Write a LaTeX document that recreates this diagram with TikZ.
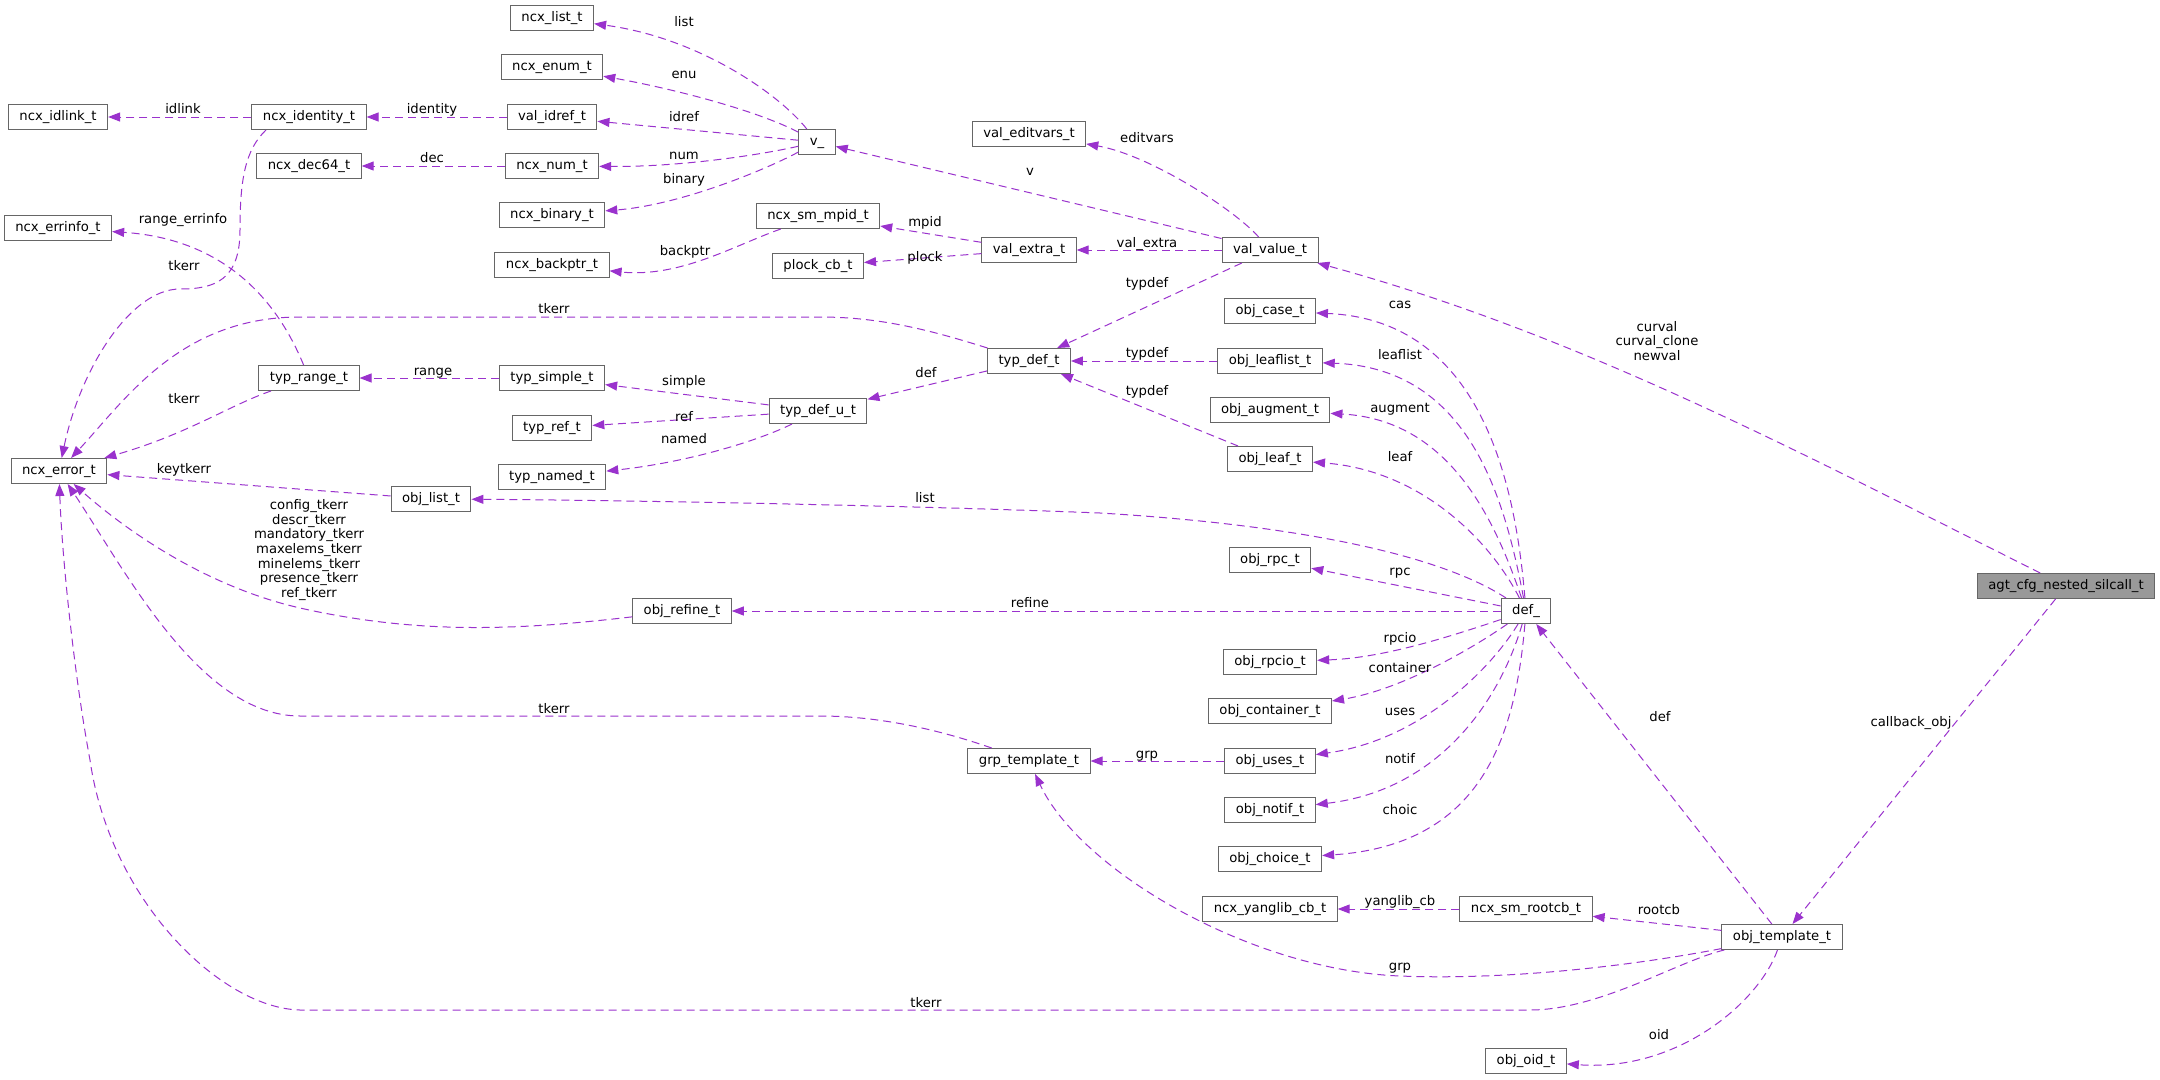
\documentclass[tikz,border=0pt]{standalone}
\usepackage{fontspec}
\setmainfont{DejaVu Sans}
\usepackage{xcolor}
\usetikzlibrary{arrows.meta}
\definecolor{memberline}{HTML}{9A32CD}
\definecolor{boxline}{HTML}{666666}
\definecolor{rootfill}{HTML}{999999}
\newcommand{\graphfont}{\fontsize{13.2}{14.6}\selectfont}

\begin{document}
\begin{tikzpicture}[x=1pt, y=-1pt,
    cls/.style={draw=boxline, fill=white, line width=1pt, minimum height=25pt, inner xsep=11pt, inner ysep=0pt, text height=9.6pt, text depth=3pt, font=\graphfont},
    rootcls/.style={cls, fill=rootfill},
    member/.style={memberline, line width=1pt, dash pattern=on 8pt off 5pt, -{Triangle[length=12pt, width=9pt]}},
    lbl/.style={text=black, font=\graphfont, inner sep=0pt, text height=9.6pt, text depth=3pt},
    mlbl/.style={text=black, font=\graphfont, inner sep=0pt, align=center}
]
    \path[fill=white] (0,0) rectangle (2160,1079);
    \useasboundingbox (0,0) rectangle (2160,1079);

    % left side
    \node[cls] (idlink)   at (58,117)  {ncx\_idlink\_t};
    \node[cls] (errinfo)  at (58,228)  {ncx\_errinfo\_t};
    \node[cls] (error)    at (59,471)  {ncx\_error\_t};
    \node[cls] (identity) at (309,117) {ncx\_identity\_t};
    \node[cls] (dec64)    at (309,166) {ncx\_dec64\_t};
    \node[cls] (range)    at (309,378) {typ\_range\_t};
    \node[cls] (objlist)  at (431,499) {obj\_list\_t};
    \foreach \nm/\txt/\y in {listt/ncx\_list\_t/18, enumt/ncx\_enum\_t/67, idref/val\_idref\_t/117,
        num/ncx\_num\_t/166, binary/ncx\_binary\_t/215, backptr/ncx\_backptr\_t/265,
        simple/typ\_simple\_t/378, tref/typ\_ref\_t/428, named/typ\_named\_t/477} {
        \node[cls] (\nm) at (552,\y) {\txt};
    }
    \node[cls] (refine)   at (682,611) {obj\_refine\_t};
    \node[cls] (v)        at (817,142) {v\_};
    \node[cls] (mpid)     at (818,216) {ncx\_sm\_mpid\_t};
    \node[cls] (plock)    at (818,266) {plock\_cb\_t};
    \node[cls] (defu)     at (818,411) {typ\_def\_u\_t};
    \node[cls] (editvars) at (1029,134) {val\_editvars\_t};
    \node[cls] (extra)    at (1029,250) {val\_extra\_t};
    \node[cls] (typdef)   at (1029,361) {typ\_def\_t};
    \node[cls] (grp)      at (1029,761) {grp\_template\_t};
    \node[cls] (value)    at (1270,250) {val\_value\_t};
    % right side
    \foreach \nm/\txt/\y in {case/obj\_case\_t/311, leaflist/obj\_leaflist\_t/361, augment/obj\_augment\_t/410,
        leaf/obj\_leaf\_t/459, rpc/obj\_rpc\_t/560, rpcio/obj\_rpcio\_t/662, container/obj\_container\_t/711,
        uses/obj\_uses\_t/761, notif/obj\_notif\_t/810, choice/obj\_choice\_t/859, yanglib/ncx\_yanglib\_cb\_t/909} {
        \node[cls] (\nm) at (1270,\y) {\txt};
    }
    \node[cls] (def)      at (1526,611) {def\_};
    \node[cls] (rootcb)   at (1526,909) {ncx\_sm\_rootcb\_t};
    \node[cls] (oid)      at (1526,1061) {obj\_oid\_t};
    \node[cls] (template) at (1782,937) {obj\_template\_t};
    \node[rootcls] (agt)  at (2066,586) {agt\_cfg\_nested\_silcall\_t};

    % Edges from v_
    \draw[member] (v) .. controls (780,95) and (700,38) .. (listt) node[lbl] at (684,23) {list};
    \draw[member] (v) .. controls (760,112) and (680,90) .. (enumt) node[lbl] at (684,75) {enu};
    \draw[member] (v) -- (idref) node[lbl] at (684,118) {idref};
    \draw[member] (v) .. controls (760,155) and (680,167) .. (num) node[lbl] at (684,156) {num};
    \draw[member] (v) .. controls (765,170) and (680,205) .. (binary) node[lbl] at (684,180) {binary};
    % Edges from ncx_identity_t, val_idref_t, ncx_num_t
    \draw[member] (identity) -- (idlink) node[lbl] at (183,110) {idlink};
    \draw[member] ([xshift=-43pt]identity.south) .. controls (245,150) and (240,180) .. (240,230)
        .. controls (240,280) and (215,289) .. (180,289) .. controls (130,289) and (80,370) .. (error)
        node[lbl] at (184,267) {tkerr};
    \draw[member] (idref) -- (identity) node[lbl] at (432,110) {identity};
    \draw[member] (num) -- (dec64) node[lbl] at (432,159) {dec};
    % Edges from typ_range_t, typ_simple_t
    \draw[member] (range) .. controls (285,320) and (240,240) .. (errinfo) node[lbl] at (183,220) {range\_errinfo};
    \draw[member] (range) .. controls (230,405) and (188,434) .. (error) node[lbl] at (184,400) {tkerr};
    \draw[member] (simple) -- (range) node[lbl] at (433,372) {range};
    % Edges from typ_def_u_t, typ_def_t
    \draw[member] (defu) -- (simple) node[lbl] at (684,382) {simple};
    \draw[member] (defu) -- (tref) node[lbl] at (684,418) {ref};
    \draw[member] (defu) .. controls (760,440) and (690,462) .. (named) node[lbl] at (684,440) {named};
    \draw[member] (typdef) -- (defu) node[lbl] at (926,374) {def};
    \draw[member] (typdef) .. controls (930,330) and (880,317) .. (820,317) -- (300,317)
        .. controls (180,317) and (125,400) .. (error) node[lbl] at (554,310) {tkerr};
    % Edges from val_extra_t, ncx_sm_mpid_t
    \draw[member] (extra) -- (mpid) node[lbl] at (925,223) {mpid};
    \draw[member] (extra) -- (plock) node[lbl] at (925,258) {plock};
    \draw[member] (mpid) .. controls (735,245) and (680,278) .. (backptr) node[lbl] at (685,252) {backptr};
    % Edges from val_value_t
    \draw[member] (value) -- (v) node[lbl] at (1030,172) {v};
    \draw[member] (value) .. controls (1235,210) and (1150,155) .. (editvars) node[lbl] at (1147,139) {editvars};
    \draw[member] (value) -- (extra) node[lbl] at (1147,244) {val\_extra};
    \draw[member] (value) -- (typdef) node[lbl] at (1147,284) {typdef};
    \draw[member] (leaflist) -- (typdef) node[lbl] at (1147,354) {typdef};
    \draw[member] (leaf) -- (typdef) node[lbl] at (1147,392) {typdef};
    % Edges into ncx_error_t from below
    \draw[member] (objlist) -- (error) node[lbl] at (184,470) {keytkerr};
    \draw[member] (refine) .. controls (520,630) and (420,635) .. (300,608) .. controls (200,585) and (120,525) .. (error)
        node[mlbl] at (309,550) {config\_tkerr\\descr\_tkerr\\mandatory\_tkerr\\maxelems\_tkerr\\minelems\_tkerr\\presence\_tkerr\\ref\_tkerr};
    \draw[member] (grp) .. controls (940,730) and (880,716) .. (820,716) -- (300,716)
        .. controls (200,716) and (125,570) .. (error) node[lbl] at (554,710) {tkerr};
    \draw[member] (uses) -- (grp) node[lbl] at (1147,755) {grp};
    % Edges from def_
    \draw[member] (def) .. controls (1515,480) and (1480,320) .. (case) node[lbl] at (1400,305) {cas};
    \draw[member] (def) .. controls (1505,500) and (1470,368) .. (leaflist) node[lbl] at (1400,356) {leaflist};
    \draw[member] (def) .. controls (1495,520) and (1450,420) .. (augment) node[lbl] at (1400,409) {augment};
    \draw[member] (def) .. controls (1490,540) and (1420,470) .. (leaf) node[lbl] at (1400,458) {leaf};
    \draw[member] (def) .. controls (1440,555) and (1300,525) .. (1100,513) .. controls (900,505) and (600,500) .. (objlist)
        node[lbl] at (925,499) {list};
    \draw[member] (def) -- (rpc) node[lbl] at (1400,572) {rpc};
    \draw[member] (def) -- (refine) node[lbl] at (1030,604) {refine};
    \draw[member] (def) .. controls (1440,640) and (1380,658) .. (rpcio) node[lbl] at (1400,639) {rpcio};
    \draw[member] (def) .. controls (1470,650) and (1400,690) .. (container) node[lbl] at (1400,669) {container};
    \draw[member] (def) .. controls (1490,670) and (1420,740) .. (uses) node[lbl] at (1400,712) {uses};
    \draw[member] (def) .. controls (1500,700) and (1440,790) .. (notif) node[lbl] at (1400,760) {notif};
    \draw[member] (def) .. controls (1515,740) and (1480,845) .. (choice) node[lbl] at (1400,811) {choic};
    % Edges from ncx_sm_rootcb_t, obj_template_t
    \draw[member] (rootcb) -- (yanglib) node[lbl] at (1400,902) {yanglib\_cb};
    \draw[member] (template) -- (rootcb) node[lbl] at (1659,911) {rootcb};
    \draw[member] (template) .. controls (1620,968) and (1500,980) .. (1400,976) .. controls (1250,970) and (1080,870) .. (grp)
        node[lbl] at (1400,967) {grp};
    \draw[member] (template) .. controls (1680,960) and (1600,1010) .. (1530,1010) -- (300,1010)
        .. controls (220,1008) and (110,900) .. (90,760) .. controls (75,680) and (62,560) .. (error)
        node[lbl] at (926,1004) {tkerr};
    \draw[member] (template) .. controls (1760,1000) and (1680,1072) .. (oid) node[lbl] at (1659,1036) {oid};
    \draw[member] (template) -- (def) node[lbl] at (1660,718) {def};
    % Edges from agt_cfg_nested_silcall_t
    \draw[member] (agt) .. controls (1801,453) and (1580,335) .. (value)
        node[mlbl] at (1657,341) {curval\\curval\_clone\\newval};
    \draw[member] (agt) -- (template) node[lbl] at (1911,723) {callback\_obj};
\end{tikzpicture}
\end{document}
